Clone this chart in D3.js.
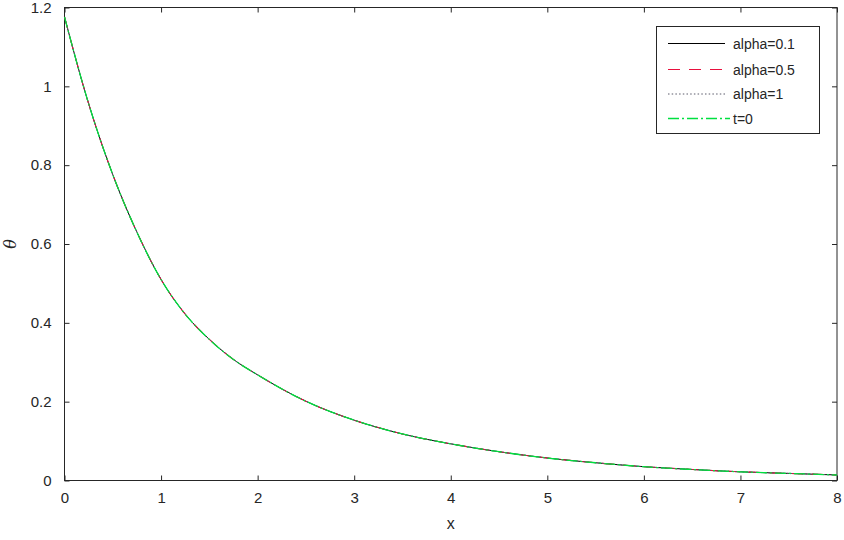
<!DOCTYPE html>
<html><head><meta charset="utf-8">
<script src="https://cdn.jsdelivr.net/npm/d3@7"></script>
<style>body{margin:0;background:#fff;}svg{display:block;font-family:"Liberation Sans",Arial,sans-serif;}</style>
</head><body><svg id="c" width="844" height="540"></svg>
<script>
const xValues = [0,0.25,0.5,0.75,1,1.25,1.5,1.75,2,2.5,3,3.5,4,4.5,5,5.5,6,6.5,7,7.5,8];
const alpha01 = [1.176,0.956,0.776,0.63,0.51,0.422,0.358,0.307,0.268,0.201,0.153,0.118,0.093,0.073,0.057,0.045,0.035,0.028,0.022,0.018,0.014];
const alpha05 = [1.176,0.956,0.776,0.63,0.51,0.422,0.358,0.307,0.268,0.201,0.153,0.118,0.093,0.073,0.057,0.045,0.035,0.028,0.022,0.018,0.014];
const alpha1  = [1.176,0.956,0.776,0.63,0.51,0.422,0.358,0.307,0.268,0.201,0.153,0.118,0.093,0.073,0.057,0.045,0.035,0.028,0.022,0.018,0.014];
const t0      = [1.176,0.956,0.776,0.63,0.51,0.422,0.358,0.307,0.268,0.201,0.153,0.118,0.093,0.073,0.057,0.045,0.035,0.028,0.022,0.018,0.014];
const seriesNames = ["alpha=0.1","alpha=0.5","alpha=1","t=0"];
const xTicks = [0,1,2,3,4,5,6,7,8];
const yTicks = [0,0.2,0.4,0.6,0.8,1,1.2];

const styles = [
  {color:"#000000", dash:null, w:1},
  {color:"#e8103e", dash:"12,9", w:1.1},
  {color:"#5a5a6a", dash:"1.5,2.2", w:1},
  {color:"#00e040", dash:"11,3,2,3", w:1.3}
];
const allSeries = [alpha01, alpha05, alpha1, t0];

const svg = d3.select("#c");
const L=64.5, R=837, T=7.5, B=480.5;
const x = d3.scaleLinear().domain([0,8]).range([L,R]);
const y = d3.scaleLinear().domain([0,1.2]).range([B,T]);
const ink = "#262626";

// axes
const gx = svg.append("g").attr("transform",`translate(0,${B})`)
  .call(d3.axisBottom(x).tickValues(xTicks).tickSizeInner(-5).tickSizeOuter(0).tickPadding(12).tickFormat(d3.format("~g")));
const gxt = svg.append("g").attr("transform",`translate(0,${T})`)
  .call(d3.axisTop(x).tickValues(xTicks).tickSizeInner(-5).tickSizeOuter(0).tickFormat(""));
const gy = svg.append("g").attr("transform",`translate(${L},0)`)
  .call(d3.axisLeft(y).tickValues(yTicks).tickSizeInner(-5).tickSizeOuter(0).tickPadding(13).tickFormat(d3.format("~g")));
const gyr = svg.append("g").attr("transform",`translate(${R},0)`)
  .call(d3.axisRight(y).tickValues(yTicks).tickSizeInner(-5).tickSizeOuter(0).tickFormat(""));
[gx,gxt,gy,gyr].forEach(g=>{
  g.select(".domain").remove();
  g.selectAll("line").attr("stroke",ink);
  g.selectAll("text").attr("fill",ink).style("font-size","15px").style("font-family","'Liberation Sans',Arial,sans-serif");
});
svg.append("rect").attr("x",L).attr("y",T).attr("width",R-L).attr("height",B-T)
  .attr("fill","none").attr("stroke",ink).attr("stroke-width",1);

// lines
const line = d3.line().x((d,i)=>x(xValues[i])).y(d=>y(d)).curve(d3.curveMonotoneX);
allSeries.forEach((s,i)=>{
  svg.append("path").datum(s).attr("d",line).attr("fill","none")
    .attr("stroke",styles[i].color).attr("stroke-width",styles[i].w)
    .attr("stroke-dasharray",styles[i].dash);
});

// axis labels
svg.append("text").attr("x",(L+R)/2).attr("y",529).attr("text-anchor","middle")
  .attr("fill",ink).style("font-size","16px").text("x");
svg.append("text").attr("transform",`translate(16,${(T+B)/2}) rotate(-90)`).attr("text-anchor","middle")
  .attr("fill",ink).style("font-size","16px").style("font-style","italic").style("font-family","'DejaVu Serif',serif").text("θ");

// legend
const lg = svg.append("g");
lg.append("rect").attr("x",656.5).attr("y",26.5).attr("width",163).attr("height",107)
  .attr("fill","#fff").attr("stroke",ink).attr("stroke-width",1);
const rowsY=[43.5,69.5,94,118.5];
seriesNames.forEach((n,i)=>{
  lg.append("line").attr("x1",668).attr("x2",i===3?730:725).attr("y1",rowsY[i]).attr("y2",rowsY[i])
    .attr("stroke",styles[i].color).attr("stroke-width",styles[i].w).attr("stroke-dasharray",styles[i].dash);
  lg.append("text").attr("x",733).attr("y",rowsY[i]+5).attr("fill",ink).style("font-size","14px").text(n);
});
</script></body></html>
